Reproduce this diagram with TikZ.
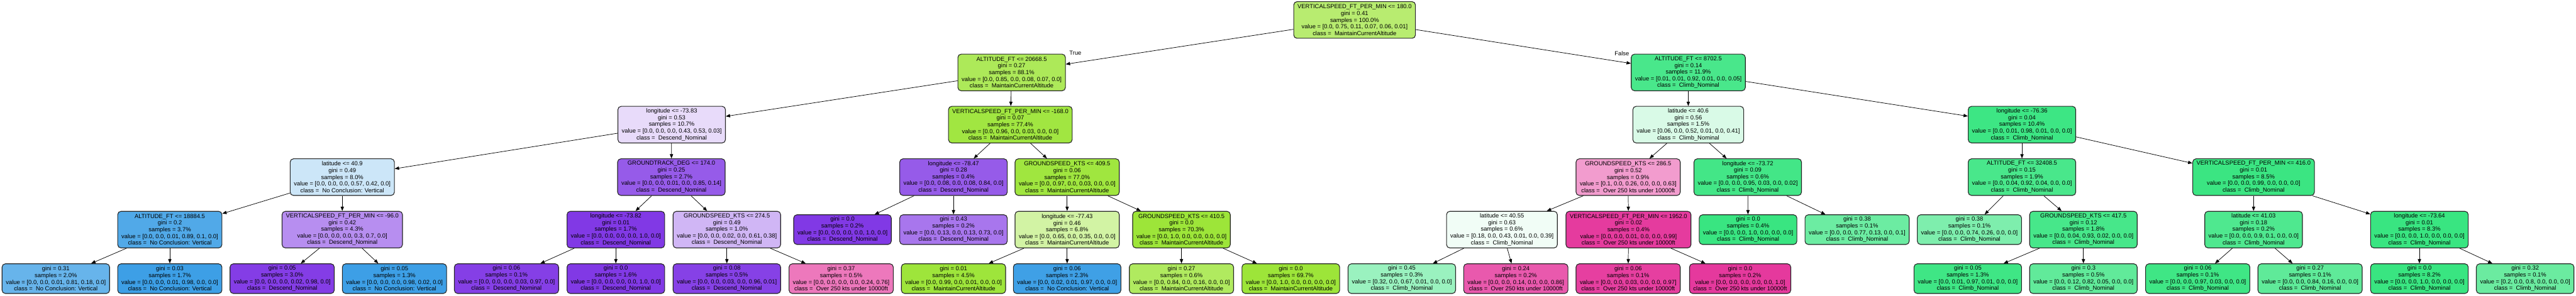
\documentclass[tikz,border=0pt]{standalone}
\usepackage{fontspec}
\setmainfont{Liberation Sans}
\usetikzlibrary{arrows.meta}
\newcommand\nodefnt{\fontsize{5.1pt}{5.75pt}\selectfont}
\definecolor{cM}{RGB}{157,229,57}
\definecolor{cC}{RGB}{57,229,129}
\definecolor{cV}{RGB}{57,157,229}
\definecolor{cD}{RGB}{129,57,229}
\definecolor{cO}{RGB}{229,57,157}
\tikzset{
  tn/.style={draw=black!85, line width=0.6pt, rounded corners=0.1cm, align=center,
    inner xsep=0.115cm, inner ysep=0.04cm, minimum height=1.11cm, font=\nodefnt},
  lf/.style={tn, minimum height=0.90cm},
  ed/.style={-{Triangle[length=0.13cm,width=0.1cm]}, line width=0.4pt, black},
  lbl/.style={font=\nodefnt, inner sep=0pt}
}
\begin{document}
\begin{tikzpicture}
\useasboundingbox (0,0) rectangle (77.97,-8.95);
% level 0
\node[tn, fill=cM!72] (r) at (41.00,-0.605) {VERTICALSPEED\_FT\_PER\_MIN <= 180.0\\gini = 0.41\\samples = 100.0\%\\value = [0.0, 0.75, 0.11, 0.07, 0.06, 0.01]\\class = \ MaintainCurrentAltitude};
% level 1
\node[tn, fill=cM!84] (l1a) at (30.62,-2.195) {ALTITUDE\_FT <= 20668.5\\gini = 0.27\\samples = 88.1\%\\value = [0.0, 0.85, 0.0, 0.08, 0.07, 0.0]\\class = \ MaintainCurrentAltitude};
\node[tn, fill=cC!92] (l1b) at (51.10,-2.195) {ALTITUDE\_FT <= 8702.5\\gini = 0.14\\samples = 11.9\%\\value = [0.01, 0.01, 0.92, 0.01, 0.0, 0.05]\\class = \ Climb\_Nominal};
% level 2
\node[tn, fill=cD!18] (l2a) at (20.33,-3.775) {longitude <= -73.83\\gini = 0.53\\samples = 10.7\%\\value = [0.0, 0.0, 0.0, 0.43, 0.53, 0.03]\\class = \ Descend\_Nominal};
\node[tn, fill=cM!96] (l2b) at (30.58,-3.775) {VERTICALSPEED\_FT\_PER\_MIN <= -168.0\\gini = 0.07\\samples = 77.4\%\\value = [0.0, 0.96, 0.0, 0.03, 0.0, 0.0]\\class = \ MaintainCurrentAltitude};
\node[tn, fill=cC!19] (l2c) at (51.10,-3.775) {latitude <= 40.6\\gini = 0.56\\samples = 1.5\%\\value = [0.06, 0.0, 0.52, 0.01, 0.0, 0.41]\\class = \ Climb\_Nominal};
\node[tn, fill=cC!98] (l2d) at (61.20,-3.775) {longitude <= -76.36\\gini = 0.04\\samples = 10.4\%\\value = [0.0, 0.01, 0.98, 0.01, 0.0, 0.0]\\class = \ Climb\_Nominal};
% level 3
\node[tn, fill=cV!26] (l3a) at (10.36,-5.365) {latitude <= 40.9\\gini = 0.49\\samples = 8.0\%\\value = [0.0, 0.0, 0.0, 0.57, 0.42, 0.0]\\class = \ No Conclusion: Vertical};
\node[tn, fill=cD!83] (l3b) at (20.32,-5.365) {GROUNDTRACK\_DEG <= 174.0\\gini = 0.25\\samples = 2.7\%\\value = [0.0, 0.0, 0.01, 0.0, 0.85, 0.14]\\class = \ Descend\_Nominal};
\node[tn, fill=cD!83] (l3c) at (28.86,-5.365) {longitude <= -78.47\\gini = 0.28\\samples = 0.4\%\\value = [0.0, 0.08, 0.0, 0.08, 0.84, 0.0]\\class = \ Descend\_Nominal};
\node[tn, fill=cM!97] (l3d) at (32.30,-5.365) {GROUNDSPEED\_KTS <= 409.5\\gini = 0.06\\samples = 77.0\%\\value = [0.0, 0.97, 0.0, 0.03, 0.0, 0.0]\\class = \ MaintainCurrentAltitude};
\node[tn, fill=cO!50] (l3e) at (49.28,-5.365) {GROUNDSPEED\_KTS <= 286.5\\gini = 0.52\\samples = 0.9\%\\value = [0.1, 0.0, 0.26, 0.0, 0.0, 0.63]\\class = \ Over 250 kts under 10000ft};
\node[tn, fill=cC!95] (l3f) at (52.90,-5.365) {longitude <= -73.72\\gini = 0.09\\samples = 0.6\%\\value = [0.0, 0.0, 0.95, 0.03, 0.0, 0.02]\\class = \ Climb\_Nominal};
\node[tn, fill=cC!92] (l3g) at (61.20,-5.365) {ALTITUDE\_FT <= 32408.5\\gini = 0.15\\samples = 1.9\%\\value = [0.0, 0.04, 0.92, 0.04, 0.0, 0.0]\\class = \ Climb\_Nominal};
\node[tn, fill=cC!99] (l3h) at (68.21,-5.365) {VERTICALSPEED\_FT\_PER\_MIN <= 416.0\\gini = 0.01\\samples = 8.5\%\\value = [0.0, 0.0, 0.99, 0.0, 0.0, 0.0]\\class = \ Climb\_Nominal};
% level 4
\node[tn, fill=cV!88] (l4a) at (5.14,-6.955) {ALTITUDE\_FT <= 18884.5\\gini = 0.2\\samples = 3.7\%\\value = [0.0, 0.0, 0.01, 0.89, 0.1, 0.0]\\class = \ No Conclusion: Vertical};
\node[tn, fill=cD!57] (l4b) at (10.36,-6.955) {VERTICALSPEED\_FT\_PER\_MIN <= -96.0\\gini = 0.42\\samples = 4.3\%\\value = [0.0, 0.0, 0.0, 0.3, 0.7, 0.0]\\class = \ Descend\_Nominal};
\node[tn, fill=cD!100] (l4c) at (18.64,-6.955) {longitude <= -73.82\\gini = 0.01\\samples = 1.7\%\\value = [0.0, 0.0, 0.0, 0.0, 1.0, 0.0]\\class = \ Descend\_Nominal};
\node[tn, fill=cD!37] (l4d) at (22.00,-6.955) {GROUNDSPEED\_KTS <= 274.5\\gini = 0.49\\samples = 1.0\%\\value = [0.0, 0.0, 0.02, 0.0, 0.61, 0.38]\\class = \ Descend\_Nominal};
\node[lf, fill=cD!100] (g1) at (25.50,-6.955) {gini = 0.0\\samples = 0.2\%\\value = [0.0, 0.0, 0.0, 0.0, 1.0, 0.0]\\class = \ Descend\_Nominal};
\node[lf, fill=cD!69] (g2) at (28.86,-6.955) {gini = 0.43\\samples = 0.2\%\\value = [0.0, 0.13, 0.0, 0.13, 0.73, 0.0]\\class = \ Descend\_Nominal};
\node[tn, fill=cM!46] (l4e) at (32.30,-6.955) {longitude <= -77.43\\gini = 0.46\\samples = 6.8\%\\value = [0.0, 0.65, 0.0, 0.35, 0.0, 0.0]\\class = \ MaintainCurrentAltitude};
\node[tn, fill=cM!100] (l4f) at (35.76,-6.955) {GROUNDSPEED\_KTS <= 410.5\\gini = 0.0\\samples = 70.3\%\\value = [0.0, 1.0, 0.0, 0.0, 0.0, 0.0]\\class = \ MaintainCurrentAltitude};
\node[tn, fill=cC!7] (l4g) at (45.46,-6.955) {latitude <= 40.55\\gini = 0.63\\samples = 0.6\%\\value = [0.18, 0.0, 0.43, 0.01, 0.0, 0.39]\\class = \ Climb\_Nominal};
\node[tn, fill=cO!99] (l4h) at (49.29,-6.955) {VERTICALSPEED\_FT\_PER\_MIN <= 1952.0\\gini = 0.02\\samples = 0.4\%\\value = [0.0, 0.0, 0.01, 0.0, 0.0, 0.99]\\class = \ Over 250 kts under 10000ft};
\node[lf, fill=cC!100] (g3) at (52.91,-6.955) {gini = 0.0\\samples = 0.4\%\\value = [0.0, 0.0, 1.0, 0.0, 0.0, 0.0]\\class = \ Climb\_Nominal};
\node[lf, fill=cC!74] (g4) at (56.21,-6.955) {gini = 0.38\\samples = 0.1\%\\value = [0.0, 0.0, 0.77, 0.13, 0.0, 0.1]\\class = \ Climb\_Nominal};
\node[lf, fill=cC!65] (g5) at (59.61,-6.955) {gini = 0.38\\samples = 0.1\%\\value = [0.0, 0.0, 0.74, 0.26, 0.0, 0.0]\\class = \ Climb\_Nominal};
\node[tn, fill=cC!93] (l4i) at (63.06,-6.955) {GROUNDSPEED\_KTS <= 417.5\\gini = 0.12\\samples = 1.8\%\\value = [0.0, 0.04, 0.93, 0.02, 0.0, 0.0]\\class = \ Climb\_Nominal};
\node[tn, fill=cC!89] (l4j) at (68.21,-6.955) {latitude <= 41.03\\gini = 0.18\\samples = 0.2\%\\value = [0.0, 0.0, 0.9, 0.1, 0.0, 0.0]\\class = \ Climb\_Nominal};
\node[tn, fill=cC!100] (l4k) at (73.23,-6.955) {longitude <= -73.64\\gini = 0.01\\samples = 8.3\%\\value = [0.0, 0.0, 1.0, 0.0, 0.0, 0.0]\\class = \ Climb\_Nominal};
% level 5
\node[lf, fill=cV!77] (f1) at (1.69,-8.44) {gini = 0.31\\samples = 2.0\%\\value = [0.0, 0.0, 0.01, 0.81, 0.18, 0.0]\\class = \ No Conclusion: Vertical};
\node[lf, fill=cV!98] (f2) at (5.14,-8.44) {gini = 0.03\\samples = 1.7\%\\value = [0.0, 0.0, 0.01, 0.98, 0.0, 0.0]\\class = \ No Conclusion: Vertical};
\node[lf, fill=cD!98] (f3) at (8.54,-8.44) {gini = 0.05\\samples = 3.0\%\\value = [0.0, 0.0, 0.0, 0.02, 0.98, 0.0]\\class = \ Descend\_Nominal};
\node[lf, fill=cV!98] (f4) at (11.94,-8.44) {gini = 0.05\\samples = 1.3\%\\value = [0.0, 0.0, 0.0, 0.98, 0.02, 0.0]\\class = \ No Conclusion: Vertical};
\node[lf, fill=cD!97] (f5) at (15.33,-8.44) {gini = 0.06\\samples = 0.1\%\\value = [0.0, 0.0, 0.0, 0.03, 0.97, 0.0]\\class = \ Descend\_Nominal};
\node[lf, fill=cD!100] (f6) at (18.64,-8.44) {gini = 0.0\\samples = 1.6\%\\value = [0.0, 0.0, 0.0, 0.0, 1.0, 0.0]\\class = \ Descend\_Nominal};
\node[lf, fill=cD!96] (f7) at (22.00,-8.44) {gini = 0.08\\samples = 0.5\%\\value = [0.0, 0.0, 0.03, 0.0, 0.96, 0.01]\\class = \ Descend\_Nominal};
\node[lf, fill=cO!68] (f8) at (25.46,-8.44) {gini = 0.37\\samples = 0.5\%\\value = [0.0, 0.0, 0.0, 0.0, 0.24, 0.76]\\class = \ Over 250 kts under 10000ft};
\node[lf, fill=cM!99] (f9) at (28.86,-8.44) {gini = 0.01\\samples = 4.5\%\\value = [0.0, 0.99, 0.0, 0.01, 0.0, 0.0]\\class = \ MaintainCurrentAltitude};
\node[lf, fill=cV!97] (f10) at (32.30,-8.44) {gini = 0.06\\samples = 2.3\%\\value = [0.0, 0.02, 0.01, 0.97, 0.0, 0.0]\\class = \ No Conclusion: Vertical};
\node[lf, fill=cM!81] (f11) at (35.76,-8.44) {gini = 0.27\\samples = 0.6\%\\value = [0.0, 0.84, 0.0, 0.16, 0.0, 0.0]\\class = \ MaintainCurrentAltitude};
\node[lf, fill=cM!100] (f12) at (39.07,-8.44) {gini = 0.0\\samples = 69.7\%\\value = [0.0, 1.0, 0.0, 0.0, 0.0, 0.0]\\class = \ MaintainCurrentAltitude};
\node[lf, fill=cC!51] (f13) at (42.43,-8.44) {gini = 0.45\\samples = 0.3\%\\value = [0.32, 0.0, 0.67, 0.01, 0.0, 0.0]\\class = \ Climb\_Nominal};
\node[lf, fill=cO!84] (f14) at (45.88,-8.44) {gini = 0.24\\samples = 0.2\%\\value = [0.0, 0.0, 0.14, 0.0, 0.0, 0.86]\\class = \ Over 250 kts under 10000ft};
\node[lf, fill=cO!97] (f15) at (49.28,-8.44) {gini = 0.06\\samples = 0.1\%\\value = [0.0, 0.0, 0.03, 0.0, 0.0, 0.97]\\class = \ Over 250 kts under 10000ft};
\node[lf, fill=cO!100] (f16) at (52.67,-8.44) {gini = 0.0\\samples = 0.2\%\\value = [0.0, 0.0, 0.0, 0.0, 0.0, 1.0]\\class = \ Over 250 kts under 10000ft};
\node[lf, fill=cC!97] (f17) at (59.56,-8.44) {gini = 0.05\\samples = 1.3\%\\value = [0.0, 0.01, 0.97, 0.01, 0.0, 0.0]\\class = \ Climb\_Nominal};
\node[lf, fill=cC!80] (f18) at (63.06,-8.44) {gini = 0.3\\samples = 0.5\%\\value = [0.0, 0.12, 0.82, 0.05, 0.0, 0.0]\\class = \ Climb\_Nominal};
\node[lf, fill=cC!97] (f19) at (66.52,-8.44) {gini = 0.06\\samples = 0.1\%\\value = [0.0, 0.0, 0.97, 0.03, 0.0, 0.0]\\class = \ Climb\_Nominal};
\node[lf, fill=cC!81] (f20) at (69.92,-8.44) {gini = 0.27\\samples = 0.1\%\\value = [0.0, 0.0, 0.84, 0.16, 0.0, 0.0]\\class = \ Climb\_Nominal};
\node[lf, fill=cC!100] (f21) at (73.23,-8.44) {gini = 0.0\\samples = 8.2\%\\value = [0.0, 0.0, 1.0, 0.0, 0.0, 0.0]\\class = \ Climb\_Nominal};
\node[lf, fill=cC!75] (f22) at (76.43,-8.44) {gini = 0.32\\samples = 0.1\%\\value = [0.2, 0.0, 0.8, 0.0, 0.0, 0.0]\\class = \ Climb\_Nominal};
% edges
\draw[ed] (r) -- (l1a);
\draw[ed] (r) -- (l1b);
\node[lbl] (tlab) at (32.55,-1.60) {True};
\node[lbl] (flab) at (49.09,-1.63) {False};
\draw[ed] (l1a) -- (l2a);
\draw[ed] (l1a) -- (l2b);
\draw[ed] (l1b) -- (l2c);
\draw[ed] (l1b) -- (l2d);
\draw[ed] (l2a) -- (l3a);
\draw[ed] (l2a) -- (l3b);
\draw[ed] (l2b) -- (l3c);
\draw[ed] (l2b) -- (l3d);
\draw[ed] (l2c) -- (l3e);
\draw[ed] (l2c) -- (l3f);
\draw[ed] (l2d) -- (l3g);
\draw[ed] (l2d) -- (l3h);
\draw[ed] (l3a) -- (l4a);
\draw[ed] (l3a) -- (l4b);
\draw[ed] (l3b) -- (l4c);
\draw[ed] (l3b) -- (l4d);
\draw[ed] (l3c) -- (g1);
\draw[ed] (l3c) -- (g2);
\draw[ed] (l3d) -- (l4e);
\draw[ed] (l3d) -- (l4f);
\draw[ed] (l3e) -- (l4g);
\draw[ed] (l3e) -- (l4h);
\draw[ed] (l3f) -- (g3);
\draw[ed] (l3f) -- (g4);
\draw[ed] (l3g) -- (g5);
\draw[ed] (l3g) -- (l4i);
\draw[ed] (l3h) -- (l4j);
\draw[ed] (l3h) -- (l4k);
\draw[ed] (l4a) -- (f1);
\draw[ed] (l4a) -- (f2);
\draw[ed] (l4b) -- (f3);
\draw[ed] (l4b) -- (f4);
\draw[ed] (l4c) -- (f5);
\draw[ed] (l4c) -- (f6);
\draw[ed] (l4d) -- (f7);
\draw[ed] (l4d) -- (f8);
\draw[ed] (l4e) -- (f9);
\draw[ed] (l4e) -- (f10);
\draw[ed] (l4f) -- (f11);
\draw[ed] (l4f) -- (f12);
\draw[ed] (l4g) -- (f13);
\draw[ed] (l4g) -- (f14);
\draw[ed] (l4h) -- (f15);
\draw[ed] (l4h) -- (f16);
\draw[ed] (l4i) -- (f17);
\draw[ed] (l4i) -- (f18);
\draw[ed] (l4j) -- (f19);
\draw[ed] (l4j) -- (f20);
\draw[ed] (l4k) -- (f21);
\draw[ed] (l4k) -- (f22);
\end{tikzpicture}
\end{document}
